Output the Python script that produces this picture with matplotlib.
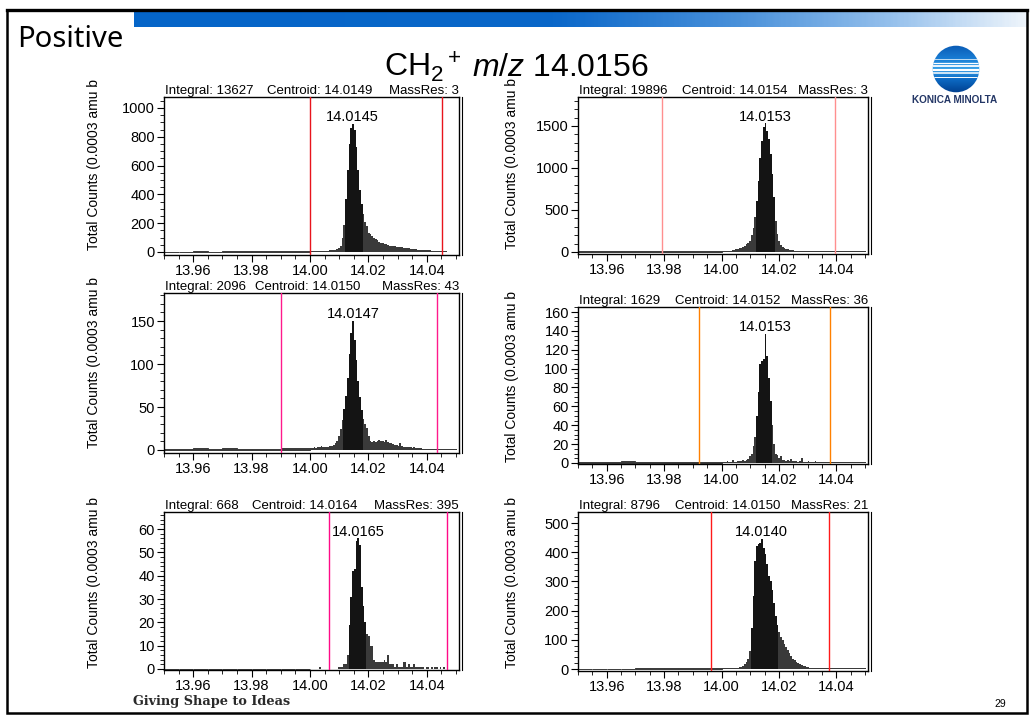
import numpy as np
import matplotlib
matplotlib.use('Agg')
import matplotlib.pyplot as plt
from matplotlib.ticker import MultipleLocator, FormatStrFormatter
from matplotlib.patches import Rectangle, Circle
from matplotlib.colors import LinearSegmentedColormap

plt.rcParams['font.family'] = ['Liberation Sans', 'DejaVu Sans']
plt.rcParams['mathtext.fontset'] = 'custom'
plt.rcParams['mathtext.rm'] = 'Liberation Sans'
plt.rcParams['mathtext.it'] = 'Liberation Sans:italic'

# ---------------- data ----------------
bin_start = 14.0      # first fine bin edge (amu)
bin_width = 0.0006    # fine bin width (amu)
pre_start = 13.95     # coarse baseline bins before the window
pre_width = 0.005

tl_counts = [4, 5, 4, 6, 5, 7, 6, 8, 7, 9,
             10, 12, 11, 14, 16, 20, 26, 40, 95, 190,
             370, 570, 750, 860, 890, 845, 730, 570, 430, 335,
             262, 205, 180, 135, 125, 110, 100, 90, 82, 72,
             65, 60, 56, 53, 48, 44, 42, 40, 39, 37,
             36, 34, 32, 30, 29, 27, 25, 24, 23, 21,
             19, 17, 16, 15, 14, 13, 12, 12, 11, 10,
             9, 8, 8, 7, 6, 5, 4, 4, 3, 3,
             3, 3, 2, 2]
tl_pre = [3, 3, 4, 3, 5, 4, 5, 6, 5, 6]

tr_counts = [8, 9, 10, 11, 13, 15, 19, 24, 30, 36,
             43, 52, 62, 76, 92, 110, 135, 200, 290, 420,
             610, 850, 1120, 1320, 1490, 1530, 1440, 1340, 1170, 930,
             650, 370, 210, 130, 80, 58, 44, 36, 30, 25,
             21, 19, 17, 16, 15, 14, 13, 13, 12, 12,
             12, 11, 11, 11, 10, 10, 10, 10, 9, 9,
             9, 9, 9, 8, 8, 8, 8, 8, 8, 8,
             8, 7, 7, 7, 7, 7, 7, 7, 7, 7,
             7, 7, 7, 7]
tr_pre = [6, 6, 7, 6, 7, 7, 8, 7, 8, 8]

ml_counts = [2, 2, 3, 2, 3, 4, 5, 3, 3, 4,
             4, 5, 5, 6, 8, 11, 16, 24, 35, 48,
             63, 84, 112, 136, 150, 128, 105, 80, 62, 46,
             36, 30, 25, 16, 11, 9, 10, 9, 11, 12,
             10, 11, 9, 12, 9, 8, 8, 7, 6, 6,
             5, 8, 5, 4, 3, 3, 3, 3, 2, 3,
             2, 2, 2, 2, 1, 1, 1, 1, 1, 1,
             1, 1, 1, 1, 1, 1, 1, 1, 1, 1,
             1, 1, 1, 1]
ml_pre = [1, 1, 2, 1, 2, 1, 1, 1, 2, 2]

mr_counts = [1, 1, 1, 2, 1, 1, 3, 1, 1, 2,
             2, 2, 3, 2, 3, 4, 7, 10, 18, 28,
             50, 75, 105, 108, 110, 137, 113, 90, 66, 40,
             20, 9, 8, 5, 7, 3, 3, 2, 3, 2,
             4, 2, 2, 2, 1, 2, 5, 1, 1, 1,
             2, 1, 1, 1, 2, 1, 1, 1, 1, 1,
             1, 1, 1, 1, 1, 1, 1, 1, 1, 1,
             1, 1, 1, 1, 1, 1, 1, 1, 1, 1,
             1, 1, 1, 1]
mr_pre = [1, 1, 1, 2, 1, 1, 1, 1, 1, 1]

bl_counts = [0, 0, 0, 0, 0, 1, 0, 0, 0, 0,
             0, 0, 0, 0, 0, 0, 1, 1, 1, 2,
             2, 6, 19, 31, 42, 43, 55, 56, 53, 35,
             27, 20, 15, 14, 10, 10, 4, 3, 3, 3,
             3, 3, 4, 3, 6, 2, 2, 2, 1, 2,
             1, 1, 1, 3, 3, 1, 2, 1, 1, 2,
             1, 1, 1, 1, 1, 0, 1, 1, 0, 1,
             0, 1, 1, 0, 1, 0, 1, 0, 0, 0,
             0, 0, 0, 0]
bl_pre = [0, 0, 0, 0, 0, 0, 0, 0, 0, 0]

br_counts = [2, 2, 2, 2, 3, 3, 3, 3, 4, 5,
             6, 8, 12, 18, 25, 35, 60, 140, 250, 370,
             420, 428, 430, 445, 415, 395, 360, 320, 300, 270,
             225, 180, 152, 128, 108, 98, 86, 74, 64, 56,
             44, 35, 30, 25, 21, 17, 14, 11, 9, 7,
             6, 5, 4, 4, 3, 3, 3, 2, 2, 2,
             2, 2, 2, 2, 2, 2, 2, 2, 2, 2,
             2, 2, 2, 2, 2, 2, 2, 2, 2, 2,
             2, 2, 2, 2]
br_pre = [1, 1, 1, 1, 2, 2, 2, 2, 2, 2]

integrals = {'tl': 13627, 'tr': 19896, 'ml': 2096, 'mr': 1629, 'bl': 668, 'br': 8796}
centroids = {'tl': '14.0149', 'tr': '14.0154', 'ml': '14.0150', 'mr': '14.0152',
             'bl': '14.0164', 'br': '14.0150'}
massres = {'tl': '3', 'tr': '3', 'ml': '43', 'mr': '36', 'bl': '395', 'br': '21'}
peak_labels = {'tl': '14.0145', 'tr': '14.0153', 'ml': '14.0147', 'mr': '14.0153',
               'bl': '14.0165', 'br': '14.0140'}
windows = {'tl': (14.000, 14.0452), 'tr': (13.9792, 14.0395), 'ml': (13.9899, 14.0433),
           'mr': (13.9921, 14.0377), 'bl': (14.0066, 14.0469), 'br': (13.9962, 14.0374)}
ylabel_text = 'Total Counts (0.0003 amu b'
x_ticks_major = 0.02
x_ticks_minor = 0.005

counts_by = {'tl': tl_counts, 'tr': tr_counts, 'ml': ml_counts,
             'mr': mr_counts, 'bl': bl_counts, 'br': br_counts}
pre_by = {'tl': tl_pre, 'tr': tr_pre, 'ml': ml_pre, 'mr': mr_pre, 'bl': bl_pre, 'br': br_pre}

# ---------------- layout / style ----------------
W, H = 1034, 722
fig = plt.figure(figsize=(W / 100, H / 100), dpi=100)
fig.patch.set_facecolor('white')


def fx(px):
    return px / W


def fy(py):
    return 1 - py / H


# axes rectangles in pixels: left, top, right, bottom
rects = {'tl': (164, 97, 459, 255), 'tr': (578, 97, 868, 254),
         'ml': (164, 293, 459, 453), 'mr': (578, 307, 868, 464),
         'bl': (164, 512, 459, 670), 'br': (578, 512, 868, 671)}
ylims = {'tl': (-21, 1076), 'tr': (-24, 1845), 'ml': (-3.5, 182.6),
         'mr': (-1.1, 165.3), 'bl': (-0.43, 67.3), 'br': (-6.8, 537.7)}
ymaj = {'tl': 200, 'tr': 500, 'ml': 50, 'mr': 20, 'bl': 10, 'br': 100}
ymin_ = {'tl': 50, 'tr': 100, 'ml': 10, 'mr': 5, 'bl': 2, 'br': 20}
line_colors = {'tl': '#e8141c', 'tr': '#ff8f8f', 'ml': '#ff1a8c', 'mr': '#ff8000',
               'bl': '#ff0a87', 'br': '#ff1a1a'}
# where the "Centroid" text starts (axes fraction)
centroid_x = {'tl': 0.348, 'tr': 0.358, 'ml': 0.31, 'mr': 0.334, 'bl': 0.30, 'br': 0.334}
# y-label (x centre px, bottom px)
ylab_pos = {'tl': (94, 250), 'tr': (512, 249), 'ml': (94, 448),
            'mr': (512, 462), 'bl': (94, 668), 'br': (512, 668)}
image_regions = {'tl': (85, 82, 466, 282), 'tr': (500, 82, 872, 282)}

# ---------------- header ----------------
bar_ax = fig.add_axes([fx(134), fy(27), fx(1027 - 134), (27 - 10) / H])
bar_cmap = LinearSegmentedColormap.from_list(
    'hdr', [(0, '#0565c8'), (0.47, '#0a67c9'), (0.68, '#4a91da'),
            (0.85, '#95c0ec'), (1.0, '#edf4fb')])
bar_ax.imshow(np.linspace(0, 1, 400)[None, :], aspect='auto', cmap=bar_cmap,
              extent=[0, 1, 0, 1])
bar_ax.axis('off')

fig.text(fx(17), fy(47), 'Positive', fontsize=21, family=['Noto Sans', 'DejaVu Sans'],
         ha='left', va='baseline', color='black')

# title in two pieces (the subscript part is partly hidden by the chart image)
fig.text(fx(462), fy(76.5), r'CH$_2$$^+$', fontsize=23,
         ha='right', va='baseline', zorder=0.5)
fig.text(fx(472), fy(76.5), r'$\mathit{m/z}$ 14.0156', fontsize=23,
         ha='left', va='baseline', zorder=0.5)

for key, (x0, y0, x1, y1) in image_regions.items():
    fig.add_artist(Rectangle((fx(x0), fy(y1)), fx(x1 - x0), (y1 - y0) / H,
                             transform=fig.transFigure, facecolor='white',
                             edgecolor='none', zorder=0.8))

# slide border
fig.add_artist(Rectangle((fx(7), fy(713)), fx(1027 - 7), (713 - 10) / H,
                         transform=fig.transFigure, fill=False, edgecolor='black',
                         lw=1.8, zorder=10))
fig.add_artist(plt.Line2D([fx(7), fx(1027)], [fy(10), fy(10)], transform=fig.transFigure,
                          color='black', lw=2.4, zorder=10))

# logo
lax = fig.add_axes([fx(932), fy(93), fx(48), 48 / H])
lax.set_xlim(-1, 1)
lax.set_ylim(-1, 1)
lax.axis('off')
logo_cmap = LinearSegmentedColormap.from_list(
    'logo', [(0, '#003f8f'), (0.3, '#0d6cc6'), (0.5, '#3aa2e8'),
             (0.7, '#1a7fd6'), (1, '#0a5bb5')])
grad = np.linspace(-1, 1, 200)[:, None] * np.ones((1, 50))
im = lax.imshow(grad, extent=[-1, 1, -1, 1], cmap=logo_cmap, vmin=-1, vmax=1,
                aspect='auto', origin='lower')
circ = Circle((0, 0), 0.97, transform=lax.transData)
im.set_clip_path(circ)
for yy, lw in zip([0.42, 0.27, 0.12, -0.03, -0.18, -0.33],
                  [0.5, 0.9, 1.3, 1.5, 1.1, 0.7]):
    ln, = lax.plot([-1, 1], [yy, yy], color='white', lw=lw)
    ln.set_clip_path(circ)
fig.text(fx(955), fy(100), 'KONICA MINOLTA', fontsize=7.2, weight='bold',
         color='#243766', ha='center', va='center')

# footer
fig.text(fx(133), fy(705), 'Giving Shape to Ideas', fontsize=9.3,
         family=['DejaVu Serif'], weight='bold', color='#2a2a2a',
         ha='left', va='baseline')
fig.text(fx(1000), fy(707), '29', fontsize=7.5, ha='center', va='baseline')

# ---------------- panels ----------------
for key in ['tl', 'tr', 'ml', 'mr', 'bl', 'br']:
    x0, y0, x1, y1 = rects[key]
    ax = fig.add_axes([fx(x0), fy(y1), fx(x1 - x0), (y1 - y0) / H])
    ax.set_zorder(1)
    counts = np.array(counts_by[key], dtype=float)
    pre = np.array(pre_by[key], dtype=float)
    centers = bin_start + bin_width * (np.arange(len(counts)) + 0.5)
    pre_centers = pre_start + pre_width * (np.arange(len(pre)) + 0.5)
    cmax = counts.max()
    colors = ['#141414' if c >= 0.3 * cmax else '#3a3a3a' for c in counts]
    ax.bar(pre_centers, pre, width=pre_width, color='#3a3a3a', edgecolor='#3a3a3a',
           linewidth=0.7, zorder=2)
    ax.bar(centers, counts, width=bin_width, color=colors, linewidth=0, zorder=2)
    for xv in windows[key]:
        ax.axvline(xv, color=line_colors[key], lw=1.0, zorder=3)

    ax.set_xlim(13.95, 14.051)
    ax.set_ylim(*ylims[key])
    ax.xaxis.set_major_locator(MultipleLocator(x_ticks_major))
    ax.xaxis.set_minor_locator(MultipleLocator(x_ticks_minor))
    ax.xaxis.set_major_formatter(FormatStrFormatter('%.2f'))
    ax.yaxis.set_major_locator(MultipleLocator(ymaj[key]))
    ax.yaxis.set_minor_locator(MultipleLocator(ymin_[key]))
    ax.yaxis.set_major_formatter(FormatStrFormatter('%d'))
    ax.tick_params(axis='both', which='major', direction='out', length=5, width=0.8,
                   labelsize=10.5, pad=1.5, colors='black')
    ax.tick_params(axis='both', which='minor', direction='out', length=3, width=0.6)
    for sp in ax.spines.values():
        sp.set_linewidth(1.0)
    ax.plot([1.009, 1.009], [0, 1], transform=ax.transAxes, color='black', lw=0.8,
            clip_on=False)

    ax.annotate(peak_labels[key], xy=(float(peak_labels[key]), cmax),
                xytext=(0, 2), textcoords='offset points', ha='center', va='baseline',
                fontsize=10.5)
    ax.annotate(f'Integral: {integrals[key]}', xy=(0, 1), xycoords='axes fraction',
                xytext=(1, 2), textcoords='offset points', ha='left', va='baseline',
                fontsize=9.5)
    ax.annotate(f'Centroid: {centroids[key]}', xy=(centroid_x[key], 1),
                xycoords='axes fraction', xytext=(0, 2), textcoords='offset points',
                ha='left', va='baseline', fontsize=9.5)
    ax.annotate(f'MassRes: {massres[key]}', xy=(1, 1), xycoords='axes fraction',
                xytext=(0, 2), textcoords='offset points', ha='right', va='baseline',
                fontsize=9.5)

    lx, lb = ylab_pos[key]
    fig.text(fx(lx), fy(lb), ylabel_text, rotation=90, rotation_mode='anchor',
             ha='left', va='center', fontsize=10, zorder=3)

fig.savefig('out.png', dpi=100, facecolor='white')
